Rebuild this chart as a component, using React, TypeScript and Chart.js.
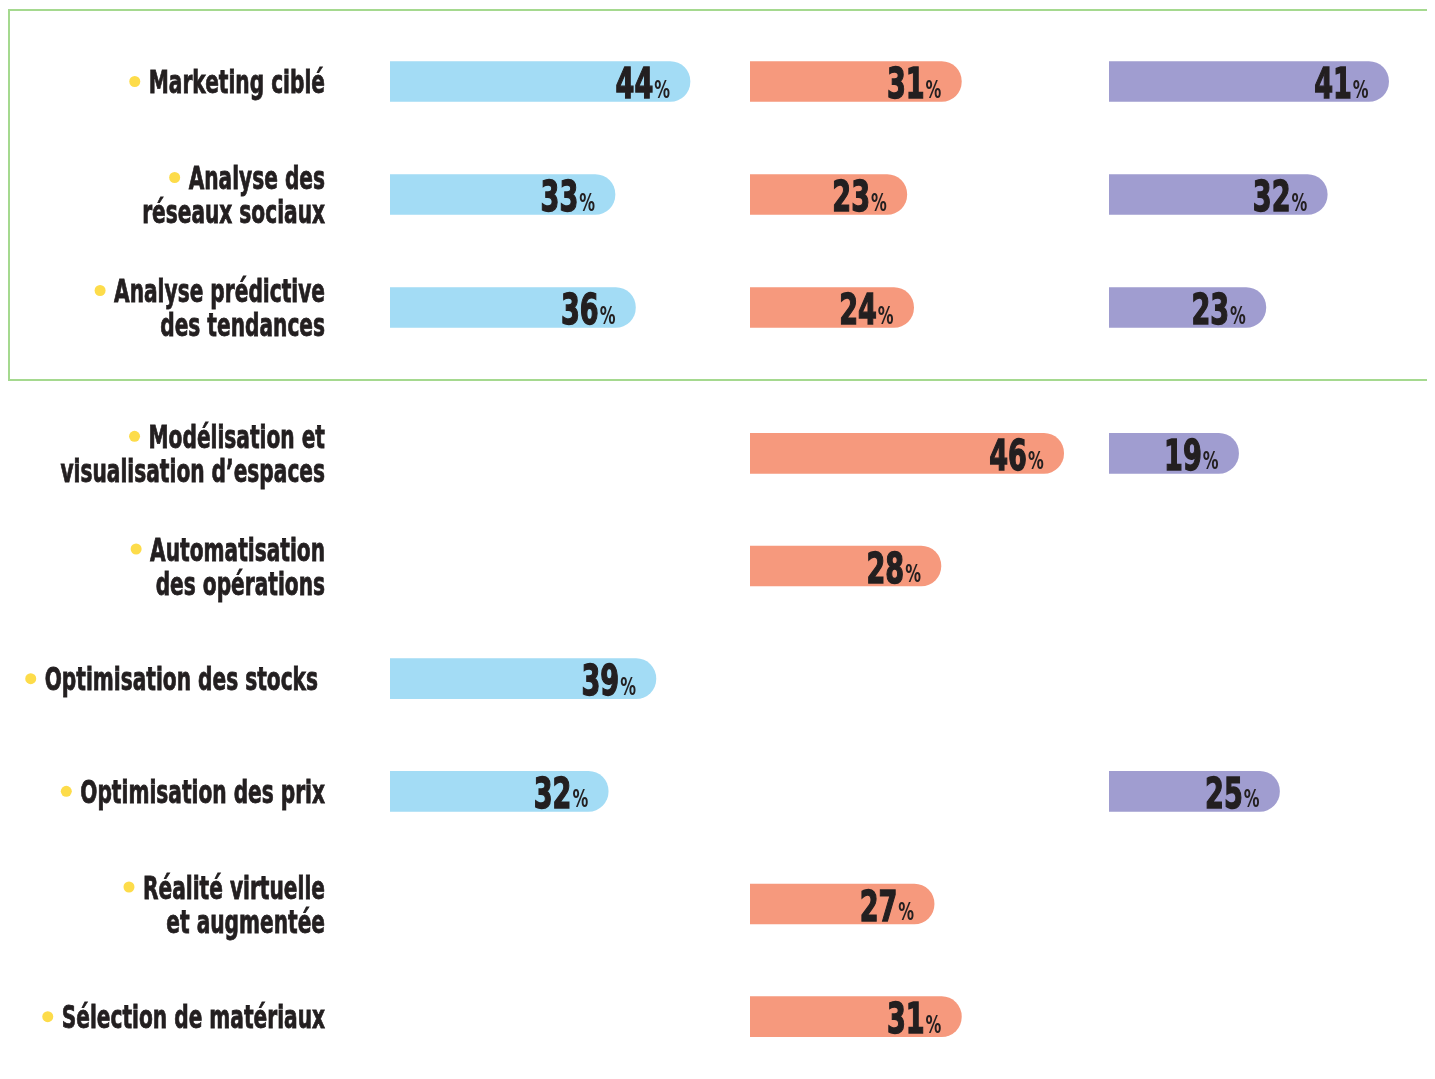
import React, { useEffect, useRef } from 'react';
import { Chart, registerables } from 'chart.js';

Chart.register(...registerables);

// ---- Data ----
const topCategories: string[][] = [
  ['Marketing ciblé'],
  ['Analyse des', 'réseaux sociaux'],
  ['Analyse prédictive', 'des tendances'],
];
const topBlue: (number | null)[] = [44, 33, 36];
const topSalmon: (number | null)[] = [31, 23, 24];
const topPurple: (number | null)[] = [41, 32, 23];

const bottomCategories: string[][] = [
  ['Modélisation et', 'visualisation d’espaces'],
  ['Automatisation', 'des opérations'],
  ['Optimisation des stocks '],
  ['Optimisation des prix'],
  ['Réalité virtuelle', 'et augmentée'],
  ['Sélection de matériaux'],
];
const bottomBlue: (number | null)[] = [null, null, 39, 32, null, null];
const bottomSalmon: (number | null)[] = [46, 28, null, null, 27, 31];
const bottomPurple: (number | null)[] = [19, null, null, 25, null, null];

// ---- Styles ----
const COLORS = ['#a3dcf5', '#f6997d', '#a09dd0'];
const TEXT = '#231f20';
const BULLET = '#fddc4a';
const BORDER_GREEN = '#a5d98f';
const FONT = '"DejaVu Sans Condensed", "DejaVu Sans", sans-serif';
const COLUMN_MAX = [52.8, 52.65, 47.8];
const COLUMN_WEIGHT = [360, 359, 326];
const LABEL_RIGHT = 317;
const LABEL_SX = 0.70;
const NUM_SX = 0.70;
const PCT_SX = 0.7;

const labelPlugin = {
  id: 'rowLabels',
  afterDraw(chart: any) {
    const ctx: CanvasRenderingContext2D = chart.ctx;
    const yScale = chart.scales.y;
    const labels = chart.data.labels as string[][];
    ctx.save();
    labels.forEach((lines, i) => {
      const cy = yScale.getPixelForValue(i);
      const n = lines.length;
      lines.forEach((line, j) => {
        const ly = cy + (j - (n - 1) / 2) * 34;
        ctx.font = 'bold 32px ' + FONT;
        const w = ctx.measureText(line).width * LABEL_SX;
        ctx.save();
        ctx.translate(LABEL_RIGHT, ly + 11.5);
        ctx.scale(LABEL_SX, 1);
        ctx.textAlign = 'right';
        ctx.textBaseline = 'alphabetic';
        ctx.fillStyle = TEXT;
        ctx.strokeStyle = TEXT;
        ctx.lineWidth = 0.8;
        ctx.fillText(line, 0, 0);
        ctx.strokeText(line, 0, 0);
        ctx.restore();
        if (j === 0) {
          ctx.beginPath();
          ctx.fillStyle = BULLET;
          ctx.arc(LABEL_RIGHT - w - 14, ly, 5.5, 0, Math.PI * 2);
          ctx.fill();
        }
      });
    });
    ctx.restore();
  },
};

const valuePlugin = {
  id: 'valueLabels',
  afterDatasetsDraw(chart: any) {
    const ctx: CanvasRenderingContext2D = chart.ctx;
    ctx.save();
    chart.data.datasets.forEach((ds: any, di: number) => {
      const meta = chart.getDatasetMeta(di);
      meta.data.forEach((el: any, i: number) => {
        const v = ds.data[i];
        if (v === null || v === undefined) return;
        const xEnd = el.x - 20;
        const y = el.y;
        // percent sign
        ctx.font = 'bold 25px ' + FONT;
        const pw = ctx.measureText('%').width * PCT_SX;
        ctx.save();
        ctx.translate(xEnd, y + 16);
        ctx.scale(PCT_SX, 1);
        ctx.textAlign = 'right';
        ctx.fillStyle = TEXT;
        ctx.fillText('%', 0, 0);
        ctx.restore();
        // number
        ctx.font = 'bold 43px ' + FONT;
        ctx.save();
        ctx.translate(xEnd - pw - 1, y + 16.5);
        ctx.scale(NUM_SX, 1);
        ctx.textAlign = 'right';
        ctx.fillStyle = TEXT;
        ctx.strokeStyle = TEXT;
        ctx.lineWidth = 1.4;
        ctx.fillText(String(v), 0, 0);
        ctx.strokeText(String(v), 0, 0);
        ctx.restore();
      });
    });
    ctx.restore();
  },
};

function buildConfig(labels: string[][], blue: (number | null)[], salmon: (number | null)[], purple: (number | null)[]): any {
  const series = [blue, salmon, purple];
  const xScales: any = {};
  ['x1', 'x2', 'x3'].forEach((id, k) => {
    xScales[id] = {
      type: 'linear',
      position: 'bottom',
      stack: 'columns',
      stackWeight: COLUMN_WEIGHT[k],
      min: 0,
      max: COLUMN_MAX[k],
      ticks: { display: false },
      grid: { display: false, drawTicks: false },
      border: { display: false },
    };
  });
  return {
    type: 'bar',
    data: {
      labels,
      datasets: series.map((data, k) => ({
        data,
        xAxisID: 'x' + (k + 1),
        yAxisID: 'y',
        backgroundColor: COLORS[k],
        borderWidth: 0,
        borderRadius: 20,
        borderSkipped: 'start',
        barThickness: 40,
        grouped: false,
      })),
    },
    options: {
      indexAxis: 'y',
      responsive: false,
      animation: false,
      layout: { padding: { left: 382, right: 0, top: 0, bottom: 0 } },
      plugins: { legend: { display: false }, tooltip: { enabled: false } },
      scales: {
        ...xScales,
        y: { type: 'category', display: false, offset: true },
      },
    },
    plugins: [labelPlugin, valuePlugin],
  };
}

function BarCanvas(props: { width: number; height: number; top: number; config: () => any }) {
  const ref = useRef<HTMLCanvasElement>(null);
  useEffect(() => {
    if (!ref.current) return;
    const chart = new Chart(ref.current, props.config());
    return () => chart.destroy();
  }, []);
  return (
    <canvas
      ref={ref}
      width={props.width}
      height={props.height}
      style={{ position: 'absolute', left: 0, top: props.top, width: props.width, height: props.height }}
    />
  );
}

export default function App() {
  return (
    <div style={{ position: 'relative', width: 1427, height: 1063, overflow: 'hidden', background: '#fff' }}>
      <div
        style={{
          position: 'absolute',
          left: 0,
          top: 1,
          width: 1500,
          height: 372,
          boxSizing: 'border-box',
          border: `2px solid ${BORDER_GREEN}`,
        }}
      />
      <BarCanvas width={1427} height={339} top={17} config={() => buildConfig(topCategories, topBlue, topSalmon, topPurple)} />
      <BarCanvas width={1427} height={676} top={389} config={() => buildConfig(bottomCategories, bottomBlue, bottomSalmon, bottomPurple)} />
    </div>
  );
}
